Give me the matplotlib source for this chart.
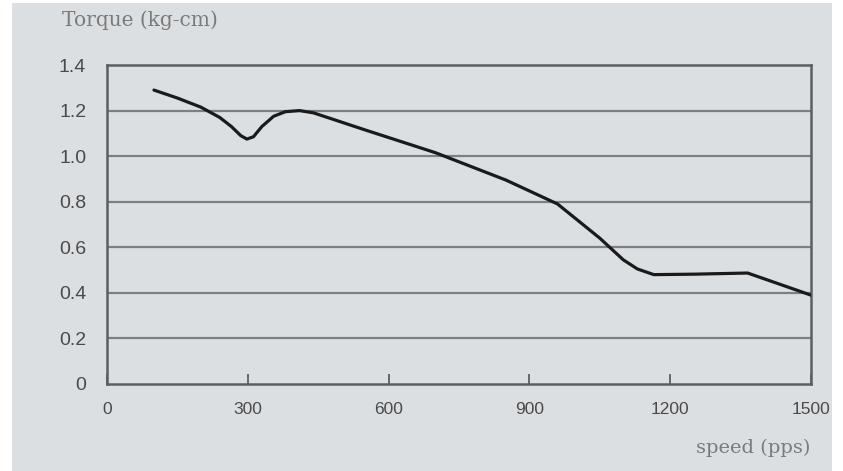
import matplotlib.pyplot as plt
from matplotlib.patches import Rectangle

speed = [100, 150, 200, 240, 265, 285, 298, 312, 330, 355, 380, 410, 440, 550, 700,
         850, 960, 1050, 1100, 1130, 1165, 1250, 1365, 1500]
torque = [1.29, 1.255, 1.215, 1.17, 1.13, 1.09, 1.075, 1.085, 1.13, 1.175, 1.195,
          1.20, 1.19, 1.115, 1.015, 0.895, 0.79, 0.64, 0.545, 0.505, 0.48, 0.482,
          0.487, 0.39]

x_ticks = [0, 300, 600, 900, 1200, 1500]
y_ticks = [0, 0.2, 0.4, 0.6, 0.8, 1.0, 1.2, 1.4]
y_labels = ["0", "0.2", "0.4", "0.6", "0.8", "1.0", "1.2", "1.4"]

bg = "#dcdfe2"
W, H = 843, 471

fig = plt.figure(figsize=(W / 100, H / 100), dpi=100, facecolor="white")
fig.add_artist(Rectangle((12 / W, 0), (832 - 12) / W, (H - 3) / H,
                         transform=fig.transFigure, facecolor=bg,
                         edgecolor="none", zorder=-10))

ax = fig.add_axes([107 / W, (H - 384) / H, (811 - 107) / W, (384 - 65) / H])
ax.set_zorder(1)
ax.set_facecolor(bg)

ax.plot(speed, torque, color="#1a1a1a", linewidth=2.3, solid_joinstyle="round",
        solid_capstyle="round", zorder=3)

ax.set_xlim(0, 1500)
ax.set_ylim(0, 1.4)
ax.set_yticks(y_ticks)
ax.set_yticklabels(y_labels)
ax.set_xticks(x_ticks)
ax.set_xticklabels([str(t) for t in x_ticks])

for y in y_ticks[1:-1]:
    ax.axhline(y, color="#7d7f82", linewidth=1.6, zorder=1)

for side in ["left", "right", "top", "bottom"]:
    ax.spines[side].set_color("#5c5e60")
    ax.spines[side].set_linewidth(1.8)

ax.tick_params(axis="y", length=0, pad=15, labelsize=14, labelcolor="#4a4a4a")
ax.tick_params(axis="x", direction="in", length=7, width=1.3, color="#5c5e60",
               pad=13, labelsize=12.5, labelcolor="#4a4a4a")
for lab in ax.get_xticklabels() + ax.get_yticklabels():
    lab.set_fontfamily("Liberation Sans")

fig.text(62 / W, 1 - 20 / H, "Torque (kg-cm)", fontsize=14.5, color="#7a7a7a",
         family="DejaVu Serif", va="center", ha="left")
fig.text(810 / W, 1 - 448 / H, "speed (pps)", fontsize=14, color="#7a7a7a",
         family="DejaVu Serif", va="center", ha="right")

fig.savefig("out.png", dpi=100, facecolor=fig.get_facecolor())
